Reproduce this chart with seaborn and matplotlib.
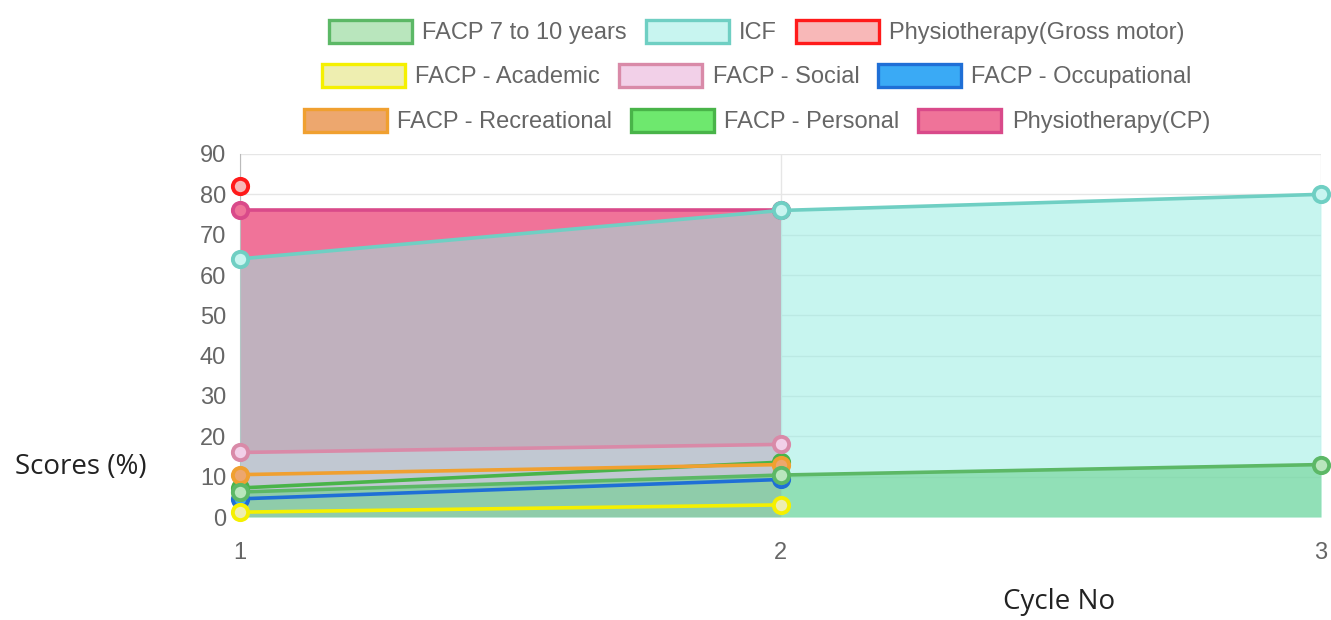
import numpy as np
import pandas as pd
import seaborn as sns
import matplotlib.pyplot as plt
from matplotlib.patches import Patch

# data
cycles = [1, 2, 3]
facp_7_10 = [6.2, 10.4, 13]
icf = [64, 76, 80]
gross_motor = [82]
academic = [1.2, 3]
social = [16, 18]
occupational = [4.5, 9.3]
recreational = [10.5, 13]
personal = [7.2, 13.6]
physio_cp = [76, 76]

series = [
    # label, values, line colour, legend/marker fill, area fill (colour, alpha) or None
    ("FACP 7 to 10 years", facp_7_10, "#5cb866", "#b9e6bd", ("#66d08a", 0.55)),
    ("ICF", icf, "#6fcfc3", "#c8f5f0", ("#95ece2", 0.52)),
    ("Physiotherapy(Gross motor)", gross_motor, "#ff1a1a", "#f8b8b8", None),
    ("FACP - Academic", academic, "#f5f000", "#eeeeb0", None),
    ("FACP - Social", social, "#d98aa8", "#f2d0e8", ("#f5d2eb", 0.5)),
    ("FACP - Occupational", occupational, "#1f6fd6", "#3aaaf5", None),
    ("FACP - Recreational", recreational, "#f0a030", "#eda76e", None),
    ("FACP - Personal", personal, "#49b449", "#6ee86e", None),
    ("Physiotherapy(CP)", physio_cp, "#d94a8a", "#ef7399", ("#f07399", 1.0)),
]

sns.set_style("white")
plt.rcParams['font.family'] = ['Liberation Sans', 'DejaVu Sans']

fig = plt.figure(figsize=(13.31, 6.2), dpi=100)
ax = fig.add_axes([240 / 1331, 103 / 620, 1081 / 1331, 363 / 620])

n = len(series)
for i, (label, vals, lc, fc, fill) in enumerate(series):
    xs = cycles[:len(vals)]
    z = 2 + (n - i) * 0.1
    if fill is not None and len(vals) > 1:
        ax.fill_between(xs, 0, vals, color=fill[0], alpha=fill[1], lw=0, zorder=z)
    df = pd.DataFrame({"x": xs, "y": vals})
    sns.lineplot(data=df, x="x", y="y", ax=ax, color=lc, lw=2.6, marker="o",
                 markersize=11, markerfacecolor=fc, markeredgecolor=lc,
                 markeredgewidth=2.8, zorder=z + 2, clip_on=False)

ax.set_xlim(1, 3)
ax.set_ylim(0, 90)
ax.set_xticks(cycles)
ax.set_yticks(range(0, 91, 10))
ax.grid(True, color="#e6e6e6", lw=1)
ax.set_axisbelow(True)
for s in ["top", "right", "bottom"]:
    ax.spines[s].set_visible(False)
ax.spines["left"].set_color("#bbbbbb")
ax.tick_params(axis="both", colors="#e6e6e6", labelcolor="#666666",
               labelsize=17, length=9, width=1)
ax.tick_params(axis="y", pad=1)
ax.tick_params(axis="x", length=12, pad=6)

ax.set_xlabel("Cycle No", fontsize=20, color="#222222", family=["Open Sans", "DejaVu Sans"],
              va="center", ha="center")
ax.xaxis.set_label_coords(0.758, -0.234)
ax.set_ylabel("Scores (%)", fontsize=20, color="#222222", rotation=0,
              family=["Open Sans", "DejaVu Sans"], ha="center", va="center")
ax.yaxis.set_label_coords(-0.147, 0.138)

# legend: three centred rows like the original
rows = [series[0:3], series[3:6], series[6:9]]
row_y = [32, 76, 121]
for row, yp in zip(rows, row_y):
    handles = [Patch(facecolor=fc, edgecolor=lc, lw=2.4) for _, _, lc, fc, _ in row]
    labels = [r[0] for r in row]
    leg = fig.legend(handles, labels, loc="center", bbox_to_anchor=(757 / 1331, 1 - yp / 620),
                     ncol=3, frameon=False, fontsize=17, handlelength=3.5, handleheight=1.15,
                     handletextpad=0.45, columnspacing=0.8, borderpad=0)
    for t in leg.get_texts():
        t.set_color("#666666")

fig.savefig("out.png", dpi=100)
